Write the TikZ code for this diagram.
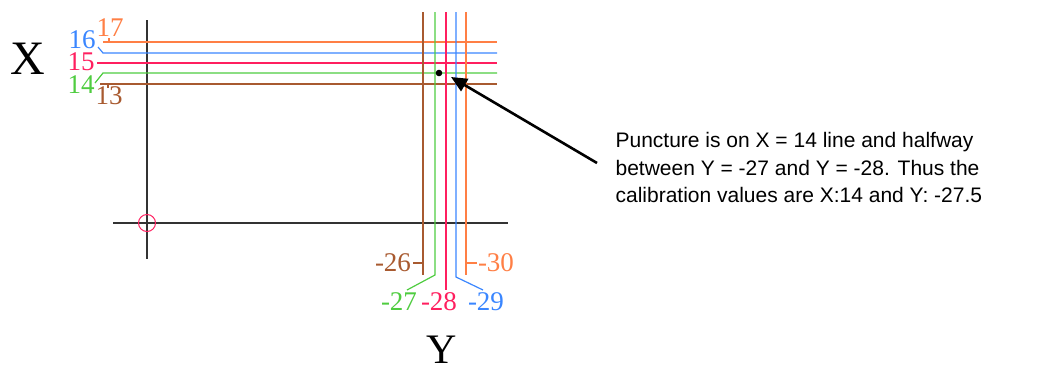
\documentclass[tikz,border=0pt]{standalone}
\usepackage{fontspec}
\setmainfont{Liberation Serif}
\newfontfamily\notefont{Liberation Sans}
\usetikzlibrary{arrows.meta, positioning, calc}
\definecolor{gridorange}{HTML}{FF7F45}
\definecolor{gridblue}{HTML}{3A86FF}
\definecolor{gridred}{HTML}{FF1F5F}
\definecolor{gridgreen}{HTML}{4FCC40}
\definecolor{gridbrown}{HTML}{A85A30}
\definecolor{axisink}{HTML}{333333}
\newcommand{\numsize}{\fontsize{27}{28}\selectfont}

\begin{document}
\begin{tikzpicture}[x=1pt, y=-1pt, line width=1.2pt,
    numlabel/.style={inner sep=0pt, font=\numsize},
    axis/.style={axisink, line width=1.4pt}]
  \useasboundingbox (0,0) rectangle (1037,365);

  % axes and origin
  \draw[axis] (147,20) -- (147,259);
  \draw[axis] (113,223) -- (508,223);
  \draw[gridred, line width=1pt] (147,223) circle[radius=8.5];
  \node[font=\fontsize{48}{50}\selectfont, inner sep=0pt] (xlab) at (27.5,59) {X};
  \node[font=\fontsize{42}{44}\selectfont, inner sep=0pt, anchor=north] (ylab) at (442,335) {Y};

  % X calibration lines
  \draw[gridorange] (103,42) -- (497,42) (109,38) -- (109,42);
  \draw[gridblue] (98,47) -- (103,53) -- (497,53);
  \draw[gridred] (97,63) -- (497,63);
  \draw[gridgreen] (95,83) -- (103,73) -- (497,73);
  \draw[gridbrown] (100,84) -- (497,84) (108,84) -- (108,88);
  \node[numlabel, text=gridorange] (x17) at (110,28) {17};
  \node[numlabel, text=gridblue] (x16) at (82,40) {16};
  \node[numlabel, text=gridred] (x15) at (81,62) {15};
  \node[numlabel, text=gridgreen] (x14) at (81,85) {14};
  \node[numlabel, text=gridbrown] (x13) at (109,96) {13};

  % Y calibration lines
  \draw[gridbrown] (423,12) -- (423,275) (413,263) -- (423,263);
  \draw[gridgreen] (435,12) -- (435,275) -- (407,290);
  \draw[gridred] (446,12) -- (446,290);
  \draw[gridblue] (456,12) -- (456,277) -- (483,290);
  \draw[gridorange] (466,12) -- (466,275) (466,263) -- (477,263);
  \node[numlabel, text=gridbrown] (y26) at (393,263) {-26};
  \node[numlabel, text=gridgreen] (y27) at (399,302) {-27};
  \node[numlabel, text=gridred] (y28) at (439,302) {-28};
  \node[numlabel, text=gridblue] (y29) at (486,302) {-29};
  \node[numlabel, text=gridorange] (y30) at (496,263) {-30};

  % puncture and note
  \fill (439,73) circle[radius=3.3];
  \node[anchor=north west, inner sep=0pt, align=left,
        font=\notefont\fontsize{21}{27.5}\selectfont] (note) at (615,132)
    {Puncture is on X = 14 line and halfway\\
     between Y = -27 and Y = -28. Thus the\\
     calibration values are X:14 and Y: -27.5};
  \coordinate (tail) at (597,163);
  \coordinate (hit) at (451,77);
  \draw[-{Triangle[length=16pt, width=14pt]}, line width=2.6pt] (tail) -- (hit);
\end{tikzpicture}
\end{document}
